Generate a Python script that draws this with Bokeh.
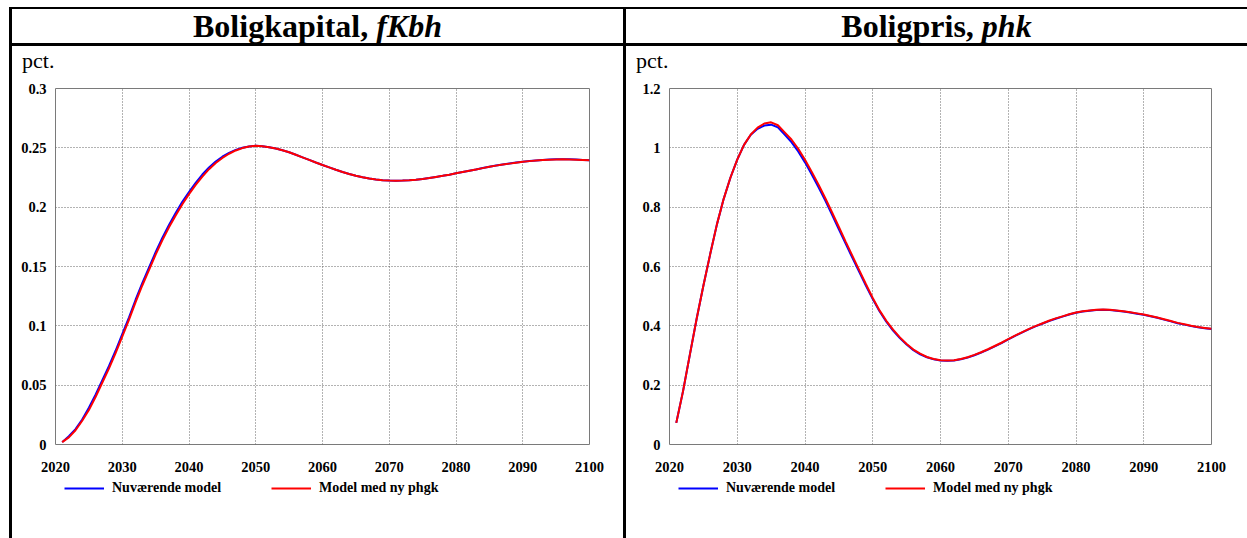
from bokeh.plotting import figure
from bokeh.layouts import row, column
from bokeh.models import Range1d, FixedTicker, Legend, LegendItem, Spacer, Div
from bokeh.embed import file_html
from bokeh.resources import INLINE

# ---------------- data ----------------
years = list(range(2021, 2101))

fkbh_current = [
    0.002, 0.007, 0.013, 0.021, 0.031, 0.042, 0.054, 0.066, 0.079, 0.093,
    0.107, 0.122, 0.136, 0.149, 0.162, 0.174, 0.185, 0.195, 0.2045, 0.2128,
    0.2205, 0.2275, 0.2335, 0.2385, 0.2425, 0.2458, 0.2483, 0.2501, 0.2512, 0.2517,
    0.2513, 0.2505, 0.2494, 0.2480, 0.2463, 0.2442, 0.2420, 0.2398, 0.2376, 0.2355,
    0.2335, 0.2315, 0.2297, 0.2280, 0.2265, 0.2252, 0.2241, 0.2233, 0.2227, 0.2224,
    0.2223, 0.2224, 0.2227, 0.2232, 0.2238, 0.2246, 0.2255, 0.2264, 0.2274, 0.2285,
    0.2296, 0.2307, 0.2318, 0.2330, 0.2341, 0.2351, 0.2360, 0.2368, 0.2376, 0.2383,
    0.2389, 0.2394, 0.2398, 0.2401, 0.2403, 0.2404, 0.2403, 0.2401, 0.2398, 0.2395,
]
fkbh_new = [
    0.002, 0.006, 0.012, 0.020, 0.029, 0.040, 0.052, 0.064, 0.077, 0.091,
    0.105, 0.120, 0.134, 0.147, 0.160, 0.172, 0.183, 0.193, 0.2025, 0.211,
    0.2188, 0.2258, 0.2320, 0.2372, 0.2415, 0.2450, 0.2478, 0.2498, 0.2511, 0.2517,
    0.2513, 0.2505, 0.2494, 0.2480, 0.2463, 0.2442, 0.2420, 0.2398, 0.2376, 0.2355,
    0.2335, 0.2315, 0.2297, 0.2280, 0.2265, 0.2252, 0.2241, 0.2233, 0.2227, 0.2224,
    0.2223, 0.2224, 0.2227, 0.2232, 0.2238, 0.2246, 0.2255, 0.2264, 0.2274, 0.2285,
    0.2296, 0.2307, 0.2318, 0.2329, 0.2340, 0.2350, 0.2359, 0.2367, 0.2375, 0.2382,
    0.2388, 0.2393, 0.2397, 0.2400, 0.2402, 0.2403, 0.2402, 0.2400, 0.2398, 0.2395,
]
phk_current = [
    0.073, 0.180, 0.302, 0.423, 0.535, 0.641, 0.742, 0.828, 0.900, 0.960,
    1.010, 1.044, 1.064, 1.075, 1.078, 1.069, 1.045, 1.019, 0.988, 0.951,
    0.910, 0.867, 0.822, 0.774, 0.725, 0.677, 0.629, 0.582, 0.535, 0.490,
    0.449, 0.414, 0.384, 0.359, 0.337, 0.318, 0.304, 0.294, 0.287, 0.283,
    0.282, 0.283, 0.287, 0.293, 0.301, 0.310, 0.320, 0.331, 0.342, 0.354,
    0.366, 0.377, 0.388, 0.398, 0.407, 0.416, 0.424, 0.431, 0.438, 0.444,
    0.448, 0.451, 0.453, 0.454, 0.453, 0.451, 0.448, 0.445, 0.441, 0.437,
    0.432, 0.427, 0.421, 0.415, 0.409, 0.404, 0.399, 0.395, 0.392, 0.389,
]
phk_new = [
    0.073, 0.180, 0.302, 0.423, 0.535, 0.641, 0.742, 0.828, 0.900, 0.960,
    1.010, 1.045, 1.068, 1.082, 1.086, 1.076, 1.052, 1.028, 0.997, 0.960,
    0.919, 0.876, 0.830, 0.782, 0.733, 0.684, 0.636, 0.588, 0.540, 0.494,
    0.452, 0.417, 0.387, 0.361, 0.339, 0.320, 0.306, 0.295, 0.288, 0.284,
    0.283, 0.284, 0.288, 0.294, 0.302, 0.311, 0.321, 0.332, 0.343, 0.355,
    0.367, 0.378, 0.389, 0.399, 0.408, 0.417, 0.425, 0.432, 0.439, 0.445,
    0.449, 0.452, 0.454, 0.455, 0.454, 0.452, 0.449, 0.446, 0.442, 0.438,
    0.433, 0.428, 0.422, 0.416, 0.410, 0.405, 0.400, 0.396, 0.393, 0.390,
]

x_ticks = [2020, 2030, 2040, 2050, 2060, 2070, 2080, 2090, 2100]
fkbh_ticks = [0, 0.05, 0.1, 0.15, 0.2, 0.25, 0.3]
fkbh_tick_labels = ["0", "0.05", "0.1", "0.15", "0.2", "0.25", "0.3"]
phk_ticks = [0, 0.2, 0.4, 0.6, 0.8, 1.0, 1.2]
phk_tick_labels = ["0", "0.2", "0.4", "0.6", "0.8", "1", "1.2"]

series_labels = ["Nuværende model", "Model med ny phgk"]
series_colors = ["#0000ff", "#ff0000"]
title_main = ["Boligkapital,", "Boligpris,"]
title_var = ["fKbh", "phk"]
unit_label = "pct."

SERIF = "Liberation Serif"


def black(w, h):
    return Div(text="", width=w, height=h, margin=0,
               styles={"background-color": "black"})


def title_div(w, main, var):
    return Div(text="<b>%s <i>%s</i></b>" % (main, var), width=w, height=34, margin=0,
               styles={"font-family": SERIF, "font-size": "32px",
                       "line-height": "34px", "text-align": "center",
                       "color": "black", "background-color": "white",
                       "white-space": "nowrap"})


def unit_div(w):
    return Div(text=unit_label, width=w, height=30, margin=0,
               styles={"font-family": SERIF, "font-size": "22px",
                       "line-height": "30px", "padding-left": "10px",
                       "box-sizing": "border-box",
                       "color": "black", "background-color": "white",
                       "white-space": "nowrap"})


def chart(w, cur, new, ticks, tick_labels, mbr):
    p = figure(width=w, height=402, toolbar_location=None, output_backend="svg",
               x_range=Range1d(x_ticks[0], x_ticks[-1]),
               y_range=Range1d(ticks[0], ticks[-1]),
               min_border_left=43, min_border_right=mbr,
               min_border_top=12, min_border_bottom=34,
               background_fill_color="white", border_fill_color="white",
               outline_line_color="#7a7a7a", outline_line_width=1)

    p.xaxis.ticker = FixedTicker(ticks=x_ticks)
    p.yaxis.ticker = FixedTicker(ticks=ticks)
    p.yaxis.major_label_overrides = {t: l for t, l in zip(ticks, tick_labels)}
    for ax in (p.xaxis, p.yaxis):
        ax.axis_line_color = None
        ax.major_tick_line_color = None
        ax.minor_tick_line_color = None
        ax.major_tick_out = 0
        ax.major_tick_in = 0
        ax.major_label_text_font = SERIF
        ax.major_label_text_font_style = "bold"
        ax.major_label_text_font_size = "14.5px"
        ax.major_label_text_color = "black"
    p.xaxis.major_label_standoff = 17
    p.yaxis.major_label_standoff = 9

    p.grid.grid_line_color = "#666666"
    p.grid.grid_line_dash = "1 2"
    p.grid.grid_line_width = 1

    p.line(years, cur, line_color=series_colors[0], line_width=2)
    p.line(years, new, line_color=series_colors[1], line_width=2)
    return p


def legend_fig(w, mbr, cur, new):
    # legend-only panel: series lie outside its range, so only the legend shows
    lf = figure(width=w, height=60, toolbar_location=None, output_backend="svg",
                min_border_left=43, min_border_right=mbr,
                min_border_top=0, min_border_bottom=0,
                x_axis_location=None, y_axis_location=None,
                x_range=Range1d(0, 1), y_range=Range1d(0, 1),
                background_fill_color="white", border_fill_color="white",
                outline_line_color=None)
    lf.grid.visible = False
    items = []
    for lab, col, ser in zip(series_labels, series_colors, (cur, new)):
        r = lf.line(years, ser, line_color=col, line_width=2)
        items.append(LegendItem(label=lab, renderers=[r]))
    leg = Legend(items=items, orientation="horizontal", location=(9, 40),
                 padding=0, margin=0, spacing=50,
                 glyph_width=40, glyph_height=20, label_standoff=8,
                 label_height=20,
                 border_line_color=None, background_fill_alpha=0,
                 label_text_font=SERIF, label_text_font_style="bold",
                 label_text_font_size="14px", label_text_color="black")
    lf.add_layout(leg)
    return lf


def cell(w, main, var, cur, new, ticks, tick_labels, mbr):
    return column(Spacer(width=w, height=7), black(w, 2), title_div(w, main, var),
                  black(w, 3), unit_div(w),
                  chart(w, cur, new, ticks, tick_labels, mbr),
                  legend_fig(w, mbr, cur, new), spacing=0)


def vbar():
    return column(Spacer(width=3, height=7), black(3, 531), spacing=0)


layout = row(
    Spacer(width=9, height=538),
    vbar(),
    cell(611, title_main[0], title_var[0], fkbh_current, fkbh_new,
         fkbh_ticks, fkbh_tick_labels, 34),
    vbar(),
    cell(621, title_main[1], title_var[1], phk_current, phk_new,
         phk_ticks, phk_tick_labels, 36),
    spacing=0,
)

open("out.html", "w").write(file_html(layout, INLINE))
